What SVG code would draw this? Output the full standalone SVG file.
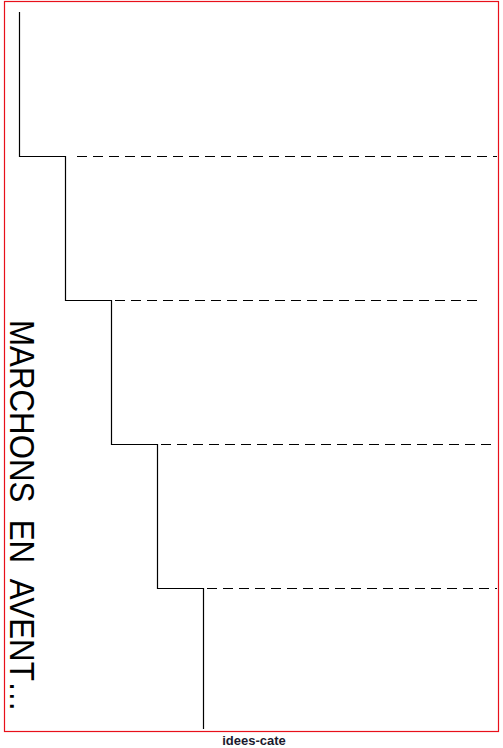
<svg xmlns="http://www.w3.org/2000/svg" width="503" height="748" viewBox="0 0 503 748">
<style>
.frame{fill:none;stroke:#e8101a;stroke-width:1.2}
.step{fill:none;stroke:#000;stroke-width:1.2}
.dash{fill:none;stroke:#000;stroke-width:1.2;stroke-dasharray:10 6}
.title{font-family:"Liberation Sans",Arial,sans-serif;font-size:35px;fill:#000}
.credit{font-family:"Liberation Sans",Arial,sans-serif;font-size:13px;font-weight:bold;fill:#1a1a2e}
</style>
<rect width="503" height="748" fill="#fff"/>
<rect id="frame" class="frame" x="4.5" y="1.5" width="494" height="730"/>
<g id="stairs">
<path class="step" d="M19.5 12 V156.5 H65.5 V300.5 H111.5 V444.5 H157.5 V588.5 H203.5 V729"/>
</g>
<g id="lines">
<line class="dash" x1="77" y1="156.5" x2="497" y2="156.5"/>
<line class="dash" x1="115" y1="300.5" x2="480" y2="300.5"/>
<line class="dash" x1="161" y1="444.5" x2="497" y2="444.5"/>
<line class="dash" x1="207" y1="588.5" x2="497" y2="588.5"/>
</g>
<g id="title">
<text class="title" transform="translate(10,320) rotate(90)" x="0" y="0" textLength="392" lengthAdjust="spacingAndGlyphs" xml:space="preserve">MARCHONS  EN  AVENT…</text>
</g>
<g id="credit">
<text class="credit" x="254" y="745" text-anchor="middle">idees-cate</text>
</g>
</svg>
